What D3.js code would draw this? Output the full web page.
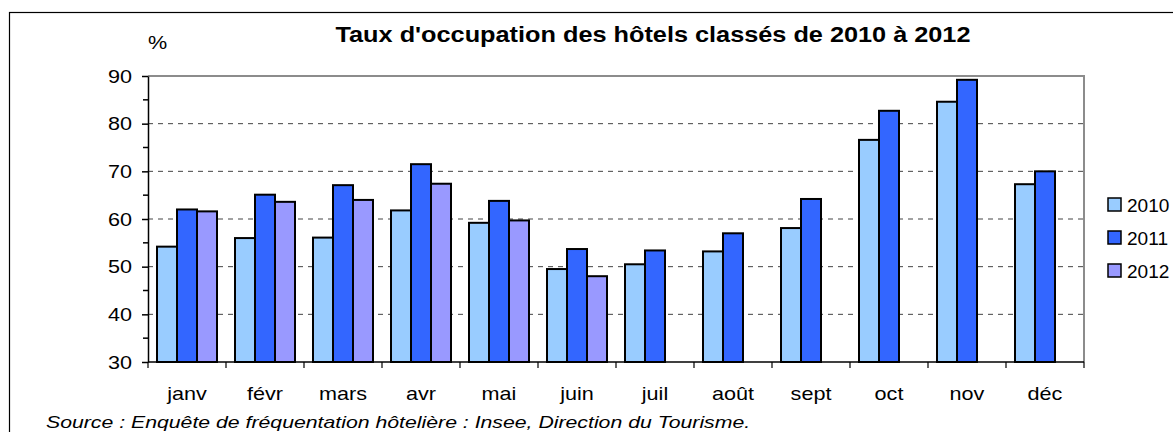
<!doctype html>
<html lang="fr">
<head>
  <meta charset="utf-8">
  <script src="https://cdnjs.cloudflare.com/ajax/libs/d3/7.8.5/d3.min.js"></script>
  <style type="text/css">
    body {
      padding: 0;
      margin: 0;
      background: #fff;
    }
    #canvas {
      display: block;
      font-family: "Liberation Sans", Arial, sans-serif;
    }
  </style>
</head>
<body>
<svg id="canvas" width="1173" height="432"></svg>
<script>

var months = ['janv', 'févr', 'mars', 'avr', 'mai', 'juin', 'juil', 'août', 'sept', 'oct', 'nov', 'déc'];
var years = ['2010', '2011', '2012'];
var v2010 = [54.2, 56.0, 56.1, 61.8, 59.2, 49.5, 50.5, 53.2, 58.1, 76.6, 84.6, 67.3];
var v2011 = [62.0, 65.1, 67.1, 71.5, 63.8, 53.7, 53.4, 57.0, 64.2, 82.7, 89.2, 70.0];
var v2012 = [61.6, 63.6, 64.0, 67.4, 59.7, 48.0, null, null, null, null, null, null];
var yTicks = [30, 40, 50, 60, 70, 80, 90];
var colors = ['#99ccff', '#3366ff', '#9999ff'];

var svg = d3.select('#canvas');

var plotLeft = 148;
var plotRight = 1084;
var plotTop = 76;
var plotBottom = 362;

// the source picture has its text a bit wider than it is tall
function label(parent, text, x, y, size, anchor, stretch) {
  stretch = stretch || 1.2;
  return parent.append('text')
    .attr('transform', 'translate(' + x + ',' + y + ') scale(' + stretch + ',1)')
    .attr('text-anchor', anchor || 'start')
    .style('font-size', size + 'px')
    .text(text);
}

var x = d3.scaleBand()
  .domain(months)
  .range([plotLeft, plotRight])
  .paddingInner(18 / 78)
  .paddingOuter(9 / 78);

var xSub = d3.scaleBand()
  .domain(years)
  .range([0, x.bandwidth()]);

var y = d3.scaleLinear()
  .domain([30, 90])
  .range([plotBottom, plotTop]);

var color = d3.scaleOrdinal().domain(years).range(colors);

// outer frame
svg.append('rect')
  .attr('x', 9.5)
  .attr('y', 12.5)
  .attr('width', 1300)
  .attr('height', 600)
  .attr('fill', 'none')
  .attr('stroke', '#000')
  .attr('stroke-width', 1.2);

// title
label(svg, "Taux d'occupation des hôtels classés de 2010 à 2012", 653, 42, 22, 'middle', 1.15)
  .style('font-weight', 'bold');

label(svg, '%', 148, 49, 18);

// gridlines
svg.append('g')
  .selectAll('line')
  .data(yTicks.filter(function(d) { return d > 30 && d < 90; }))
  .enter().append('line')
  .attr('x1', plotLeft)
  .attr('x2', plotRight)
  .attr('y1', function(d) { return y(d); })
  .attr('y2', function(d) { return y(d); })
  .attr('stroke', '#444')
  .attr('stroke-width', 1)
  .attr('stroke-dasharray', '5,5');

// plot area border (top and right)
svg.append('path')
  .attr('d', 'M' + plotLeft + ',' + y(90) + 'H' + plotRight + 'V' + plotBottom)
  .attr('fill', 'none')
  .attr('stroke', '#8c8c8c')
  .attr('stroke-width', 2);

// bars
var series = [v2010, v2011, v2012];
var bars = [];
for (var s = 0; s < series.length; s++) {
  for (var i = 0; i < months.length; i++) {
    if (series[s][i] != null) {
      bars.push({month: months[i], year: years[s], value: series[s][i]});
    }
  }
}

var barW = xSub.bandwidth();
svg.append('g')
  .selectAll('rect')
  .data(bars)
  .enter().append('rect')
  .attr('x', function(d) { return x(d.month) + xSub(d.year); })
  .attr('y', function(d) { return y(d.value); })
  .attr('width', barW)
  .attr('height', function(d) { return plotBottom - y(d.value); })
  .attr('fill', function(d) { return color(d.year); })
  .attr('stroke', '#000')
  .attr('stroke-width', 2);

// y axis
var yAxis = svg.append('g')
  .attr('transform', 'translate(' + plotLeft + ',0)')
  .call(d3.axisLeft(y).tickValues(yTicks).tickSize(6).tickSizeOuter(0).tickFormat(''));
yAxis.selectAll('line, path')
  .attr('stroke', '#000')
  .attr('stroke-width', 1.5);

var yLabels = svg.append('g');
yTicks.forEach(function(t) {
  label(yLabels, String(t), 132, y(t) + 6.5, 18, 'end');
});

// minor ticks
svg.append('g')
  .selectAll('line')
  .data(d3.range(35, 90, 10))
  .enter().append('line')
  .attr('x1', plotLeft - 5)
  .attr('x2', plotLeft)
  .attr('y1', function(d) { return y(d); })
  .attr('y2', function(d) { return y(d); })
  .attr('stroke', '#000')
  .attr('stroke-width', 1.5);

// x axis
svg.append('line')
  .attr('x1', plotLeft)
  .attr('x2', plotRight)
  .attr('y1', plotBottom)
  .attr('y2', plotBottom)
  .attr('stroke', '#000')
  .attr('stroke-width', 1.5);

var boundaries = months.map(function(m) { return x(m) - x.step() * x.paddingOuter(); });
boundaries.push(plotRight);
svg.append('g')
  .selectAll('line')
  .data(boundaries)
  .enter().append('line')
  .attr('x1', function(d) { return d; })
  .attr('x2', function(d) { return d; })
  .attr('y1', plotBottom)
  .attr('y2', plotBottom + 6)
  .attr('stroke', '#000')
  .attr('stroke-width', 1.2);

var xLabels = svg.append('g');
months.forEach(function(m) {
  label(xLabels, m, x(m) + x.bandwidth() / 2, 400, 18, 'middle');
});

// legend
var legend = svg.append('g')
  .selectAll('g')
  .data(years)
  .enter().append('g')
  .attr('transform', function(d, i) { return 'translate(1108,' + (198 + i * 33) + ')'; });
legend.append('rect')
  .attr('width', 13)
  .attr('height', 13)
  .attr('fill', function(d) { return color(d); })
  .attr('stroke', '#000')
  .attr('stroke-width', 1.5);
legend.each(function(d) {
  label(d3.select(this), d, 19, 14, 18, 'start', 1.06);
});

// source
label(svg, 'Source : Enquête de fréquentation hôtelière : Insee, Direction du Tourisme.', 46, 428, 17, 'start', 1.25)
  .style('font-style', 'italic');

</script>
</body>
</html>
